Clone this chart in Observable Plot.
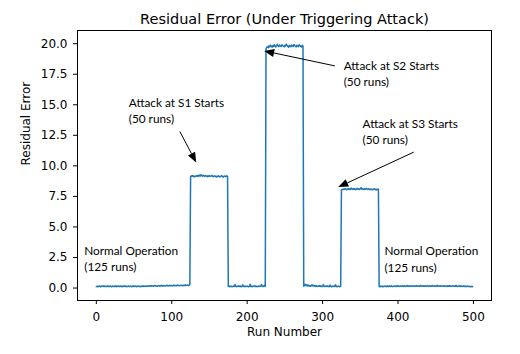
<!DOCTYPE html>
<html>
<head>
<meta charset="utf-8">
<script src="https://cdn.jsdelivr.net/npm/d3@7"></script>
<script src="https://cdn.jsdelivr.net/npm/@observablehq/plot@0.6"></script>
<style>
  html, body { margin: 0; padding: 0; background: #fff; }
</style>
</head>
<body>
<div id="chart"></div>
<script>
const titleText = "Residual Error (Under Triggering Attack)";
const xLabel = "Run Number";
const yLabel = "Residual Error";
const xTicks = [0, 100, 200, 300, 400, 500];
const yTicks = [0, 2.5, 5, 7.5, 10, 12.5, 15, 17.5, 20];

// Residual error per run, segment by segment
const normal1 = [0.12,0.15,0.10,0.14,0.17,0.13,0.11,0.16,0.14,0.12,
0.18,0.13,0.15,0.11,0.14,0.19,0.12,0.15,0.13,0.16,
0.10,0.14,0.17,0.12,0.15,0.13,0.18,0.11,0.14,0.16,
0.12,0.15,0.13,0.17,0.10,0.14,0.16,0.12,0.19,0.13,
0.15,0.11,0.14,0.17,0.12,0.16,0.13,0.10,0.15,0.18,
0.12,0.14,0.16,0.11,0.13,0.17,0.15,0.12,0.14,0.10,
0.16,0.13,0.18,0.12,0.15,0.14,0.17,0.13,0.16,0.19,
0.14,0.17,0.15,0.20,0.16,0.18,0.15,0.21,0.17,0.19,
0.16,0.14,0.18,0.20,0.15,0.17,0.22,0.16,0.19,0.17,
0.21,0.18,0.16,0.20,0.23,0.17,0.19,0.21,0.18,0.22,
0.19,0.17,0.21,0.24,0.18,0.20,0.22,0.19,0.25,0.20,
0.18,0.22,0.20,0.24,0.21,0.19,0.23,0.21,0.26,0.20,
0.22,0.25,0.21,0.24,0.26];
const attackS1 = [9.12,9.18,9.15,9.21,9.14,9.10,9.17,9.13,9.19,9.16,
9.22,9.15,9.24,9.18,9.27,9.20,9.16,9.23,9.19,9.14,
9.21,9.17,9.12,9.18,9.15,9.20,9.13,9.17,9.22,9.16,
9.11,9.15,9.19,9.14,9.09,9.16,9.12,9.18,9.13,9.10,
9.15,9.21,9.12,9.08,9.14,9.17,9.11,9.15,9.19,9.13];
const normal2 = [0.14,0.11,0.16,0.12,0.15,0.10,0.13,0.17,0.12,0.28,
0.14,0.11,0.15,0.13,0.18,0.12,0.16,0.10,0.14,0.25,
0.13,0.16,0.11,0.15,0.12,0.17,0.14,0.10,0.13,0.30,
0.12,0.15,0.11,0.16,0.13,0.18,0.12,0.14,0.11,0.15,
0.13,0.17,0.12,0.16,0.29,0.14,0.11,0.15,0.22,0.13];
const attackS2 = [19.62,19.70,19.75,19.68,19.82,19.74,19.88,19.79,19.72,19.85,
19.78,19.91,19.80,19.73,19.86,19.95,19.81,19.76,19.89,19.83,
19.77,19.92,19.85,19.79,19.74,19.87,19.81,19.96,19.84,19.78,
19.72,19.86,19.80,19.75,19.90,19.82,19.77,19.93,19.85,19.79,
19.74,19.88,19.81,19.76,19.91,19.84,19.78,19.73,19.86,19.80];
const normal3 = [0.15,0.22,0.31,0.20,0.26,0.18,0.24,0.16,0.21,0.14,
0.19,0.27,0.17,0.23,0.15,0.20,0.13,0.18,0.12,0.16,
0.14,0.21,0.13,0.17,0.11,0.15,0.28,0.14,0.12,0.16,
0.13,0.19,0.12,0.15,0.11,0.24,0.13,0.10,0.15,0.12,
0.17,0.13,0.26,0.11,0.14,0.12,0.16,0.13,0.11,0.14];
const attackS3 = [8.02,8.08,8.05,8.11,8.07,8.13,8.09,8.04,8.10,8.15,
8.08,8.12,8.06,8.18,8.11,8.07,8.14,8.09,8.12,8.05,
8.10,8.16,8.08,8.13,8.07,8.11,8.22,8.09,8.14,8.10,
8.06,8.12,8.08,8.15,8.11,8.07,8.13,8.09,8.05,8.11,
8.08,8.04,8.10,8.06,8.12,8.08,8.03,8.09,8.06,8.10];
const normal4 = [0.13,0.11,0.16,0.12,0.15,0.10,0.14,0.17,0.12,0.15,
0.13,0.18,0.11,0.14,0.16,0.12,0.19,0.14,0.11,0.15,
0.17,0.13,0.16,0.12,0.20,0.14,0.17,0.13,0.15,0.18,
0.14,0.16,0.12,0.19,0.15,0.13,0.17,0.14,0.21,0.15,
0.13,0.18,0.16,0.14,0.19,0.15,0.17,0.13,0.16,0.20,
0.14,0.18,0.15,0.17,0.13,0.22,0.16,0.14,0.18,0.15,
0.19,0.14,0.17,0.15,0.21,0.16,0.13,0.18,0.15,0.17,
0.14,0.20,0.16,0.18,0.14,0.17,0.15,0.23,0.16,0.14,
0.18,0.15,0.20,0.16,0.13,0.17,0.15,0.19,0.14,0.16,
0.12,0.18,0.15,0.21,0.14,0.17,0.13,0.16,0.19,0.14,
0.16,0.13,0.22,0.15,0.12,0.17,0.14,0.20,0.13,0.16,
0.12,0.15,0.18,0.13,0.16,0.11,0.14,0.17,0.12,0.15,
0.13,0.11,0.14,0.10,0.12];

// Annotation texts and their anchor points (data coordinates)
const noteTexts = ["Attack at S1 Starts\n(50 runs)", "Attack at S2 Starts\n(50 runs)", "Attack at S3 Starts\n(50 runs)", "Normal Operation\n(125 runs)", "Normal Operation\n(125 runs)"];
const noteX = [43, 328, 353, -16, 382];
const noteY = [14.6, 17.63, 12.9, 2.47, 2.43];
// Arrows: from (text side) -> to (point)
const arrowFromX = [111.4, 317, 421.4];
const arrowFromY = [12.77, 18.14, 11.08];
const arrowToX = [133.1, 223.2, 321.4];
const arrowToY = [10.23, 19.37, 8.22];

const values = [...normal1, ...attackS1, ...normal2, ...attackS2, ...normal3, ...attackS3, ...normal4];
const series = values.map((v, i) => ({run: i, err: v}));
const notes = noteTexts.map((t, i) => ({text: t, x: noteX[i], y: noteY[i]}));
const arrows = arrowFromX.map((x, i) => ({x1: x, y1: arrowFromY[i], x2: arrowToX[i], y2: arrowToY[i]}));

function arrowMark(index, scales) {
  const g = d3.create("svg:g");
  for (const a of arrows) {
    const x1 = scales.x(a.x1), y1 = scales.y(a.y1), x2 = scales.x(a.x2), y2 = scales.y(a.y2);
    const dx = x2 - x1, dy = y2 - y1, L = Math.hypot(dx, dy);
    const ux = dx / L, uy = dy / L;
    const hl = 10, hw = 4;
    const bx = x2 - ux * hl, by = y2 - uy * hl;
    g.append("line").attr("x1", x1).attr("y1", y1).attr("x2", bx).attr("y2", by)
      .attr("stroke", "black").attr("stroke-width", 1);
    g.append("path")
      .attr("d", `M${x2},${y2}L${bx - uy * hw},${by + ux * hw}L${bx + uy * hw},${by - ux * hw}Z`)
      .attr("fill", "black");
  }
  return g.node();
}

const chart = Plot.plot({
  width: 520,
  height: 354,
  marginLeft: 77,
  marginRight: 29,
  marginTop: 30,
  marginBottom: 54,
  style: {fontFamily: "DejaVu Sans", fontSize: "12px", color: "black", background: "white"},
  x: {domain: [-24.95, 523.95]},
  y: {domain: [-1.02, 21.08]},
  marks: [
    Plot.axisX({ticks: xTicks, tickSize: 4, tickPadding: 8, fontSize: 12, label: null}),
    Plot.axisY({ticks: yTicks, tickFormat: d3.format(".1f"), tickSize: 4, tickPadding: 6, fontSize: 12, label: null}),
    Plot.line(series, {x: "run", y: "err", stroke: "#1f77b4", strokeWidth: 1.5}),
    Plot.frame({stroke: "black", strokeWidth: 1}),
    Plot.text(notes, {x: "x", y: "y", text: "text", textAnchor: "start", lineAnchor: "middle",
      lineHeight: 1.38, fontFamily: "Lato", fontSize: 11.8, fill: "black"}),
    arrowMark,
    Plot.text([titleText], {text: d => d, frameAnchor: "top", dy: -17, fontSize: 14.5, fill: "black"}),
    Plot.text([xLabel], {text: d => d, frameAnchor: "bottom", dy: 35, fontSize: 12, fill: "black"}),
    Plot.text([yLabel], {text: d => d, frameAnchor: "left", dx: -51, rotate: -90, fontSize: 12, fill: "black"})
  ]
});
document.getElementById("chart").appendChild(chart);
</script>
</body>
</html>
